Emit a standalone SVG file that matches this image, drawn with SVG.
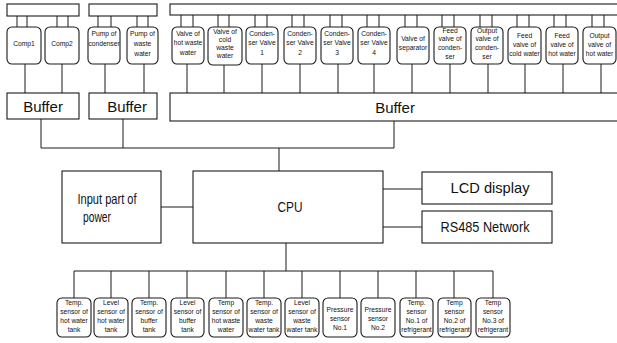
<svg xmlns="http://www.w3.org/2000/svg" width="617" height="343" viewBox="0 0 617 343">
<style>
.bx{fill:#fff;stroke:#1a1a1a;stroke-width:1.1}
.rb{fill:#fff;stroke:#1a1a1a;stroke-width:1.1}
.ln{fill:none;stroke:#1a1a1a;stroke-width:1}
.s{font-family:"Liberation Sans",Arial,sans-serif;font-size:6.7px;fill:#111;text-anchor:middle}
.m{font-family:"Liberation Sans",Arial,sans-serif;font-size:15px;fill:#111;text-anchor:middle}
</style>
<rect width="617" height="343" fill="#fff"/>
<g id="connectors">
<path class="ln" d="M17 16V27M27 16V27M57 16V27M68 16V27M98 16V27M111 16V27M137 16V27M148 16V27"/>
<path class="ln" d="M181 15V27M193 15V27M218 15V27M229 15V27M255 15V27M267 15V27M292 15V27M304 15V27M330 15V27M342 15V27M367 15V27M379 15V27M405 15V27M417 15V27M442 15V27M454 15V27M480 15V27M492 15V27M517 15V27M529 15V27M554 15V27M566 15V27M592 15V27M604 15V27"/>
<path class="ln" d="M25 64V93M62 64V93M105 64V93M144 64V93"/>
<path class="ln" d="M187 64V93M224 65V93M262 64V93M300 64V93M338 64V93M374 64V93M412 64V93M450 64V93M488 64V93M525 64V93M563 64V93M601 64V93"/>
<path class="ln" d="M41 119V148H394V121M123 119V148M279 148V171"/>
<path class="ln" d="M161 207H193M383 189H422M383 227H422"/>
<path class="ln" d="M286 243V271M74 271H493M74 271V298M111 271V298M149 271V298M187 271V298M226 271V298M264 271V298M302 271V298M340 271V298M378 271V298M416 271V298M454 271V298M493 271V298"/>
</g>
<g id="bar1"><rect class="bx" x="7" y="4" width="72" height="12"/></g>
<g id="bar2"><rect class="bx" x="89" y="4" width="68" height="12"/></g>
<g id="bar3"><rect class="bx" x="170" y="4" width="452" height="11"/></g>
<g id="comp1"><rect class="rb" x="7" y="27" width="34" height="37" rx="5"/><text class="s" x="24" y="46">Comp1</text></g>
<g id="comp2"><rect class="rb" x="45" y="27" width="34" height="37" rx="5"/><text class="s" x="62" y="46">Comp2</text></g>
<g id="pump-condenser"><rect class="rb" x="88" y="27" width="32" height="37" rx="5"/><text class="s" x="104" y="36">Pump of</text><text class="s" x="104" y="46">condenser</text></g>
<g id="pump-waste"><rect class="rb" x="127" y="27" width="31" height="37" rx="5"/><text class="s" x="142.5" y="36">Pump of</text><text class="s" x="142.5" y="46">waste</text><text class="s" x="142.5" y="56">water</text></g>
<g id="v1"><rect class="rb" x="172" y="27" width="32" height="37" rx="5"/><text class="s" x="188" y="36">Valve of</text><text class="s" x="188" y="45">hot waste</text><text class="s" x="188" y="55">water</text></g>
<g id="v2"><rect class="rb" x="208" y="27" width="34" height="38" rx="5"/><text class="s" x="225" y="34">Valve of</text><text class="s" x="225" y="42">cold</text><text class="s" x="225" y="50">waste</text><text class="s" x="225" y="58">water</text></g>
<g id="v3"><rect class="rb" x="246" y="27" width="32" height="37" rx="5"/><text class="s" x="262" y="36">Conden-</text><text class="s" x="262" y="45">ser Valve</text><text class="s" x="262" y="55">1</text></g>
<g id="v4"><rect class="rb" x="284" y="27" width="32" height="37" rx="5"/><text class="s" x="300" y="36">Conden-</text><text class="s" x="300" y="45">ser Valve</text><text class="s" x="300" y="55">2</text></g>
<g id="v5"><rect class="rb" x="321" y="27" width="32" height="37" rx="5"/><text class="s" x="337" y="36">Conden-</text><text class="s" x="337" y="45">ser Valve</text><text class="s" x="337" y="55">3</text></g>
<g id="v6"><rect class="rb" x="358" y="27" width="32" height="37" rx="5"/><text class="s" x="374" y="36">Conden-</text><text class="s" x="374" y="45">ser Valve</text><text class="s" x="374" y="55">4</text></g>
<g id="v7"><rect class="rb" x="397" y="27" width="32" height="37" rx="5"/><text class="s" x="413" y="41">Valve of</text><text class="s" x="413" y="50">separator</text></g>
<g id="v8"><rect class="rb" x="434" y="27" width="32" height="37" rx="5"/><text class="s" x="450" y="33">Feed</text><text class="s" x="450" y="41">valve of</text><text class="s" x="450" y="50">conden-</text><text class="s" x="450" y="59">ser</text></g>
<g id="v9"><rect class="rb" x="471" y="27" width="32" height="37" rx="5"/><text class="s" x="487" y="33">Output</text><text class="s" x="487" y="41">valve of</text><text class="s" x="487" y="50">conden-</text><text class="s" x="487" y="59">ser</text></g>
<g id="v10"><rect class="rb" x="508" y="27" width="33" height="37" rx="5"/><text class="s" x="524.5" y="38">Feed</text><text class="s" x="524.5" y="47">valve of</text><text class="s" x="524.5" y="56">cold water</text></g>
<g id="v11"><rect class="rb" x="546" y="27" width="32" height="37" rx="5"/><text class="s" x="562" y="38">Feed</text><text class="s" x="562" y="47">valve of</text><text class="s" x="562" y="56">hot water</text></g>
<g id="v12"><rect class="rb" x="583" y="27" width="33" height="37" rx="5"/><text class="s" x="599.5" y="38">Output</text><text class="s" x="599.5" y="47">valve of</text><text class="s" x="599.5" y="56">hot water</text></g>
<g id="buffer1"><rect class="bx" x="7" y="93" width="72" height="26"/><text class="m" x="43" y="112">Buffer</text></g>
<g id="buffer2"><rect class="bx" x="89" y="93" width="68" height="26"/><text class="m" x="127" y="112">Buffer</text></g>
<g id="buffer3"><rect class="bx" x="170" y="93" width="452" height="28"/><text class="m" x="395" y="113">Buffer</text></g>
<g id="power"><rect class="bx" x="62" y="171" width="99" height="72"/><text class="m" x="107" y="204" font-size="14" textLength="59" lengthAdjust="spacingAndGlyphs">Input part of</text><text class="m" x="97" y="222" font-size="14" textLength="28" lengthAdjust="spacingAndGlyphs">power</text></g>
<g id="cpu"><rect class="bx" x="193" y="171" width="190" height="72"/><text class="m" x="290" y="212" textLength="25" lengthAdjust="spacingAndGlyphs">CPU</text></g>
<g id="lcd"><rect class="bx" x="422" y="172" width="130" height="32"/><text class="m" x="490" y="193" font-size="14" textLength="79" lengthAdjust="spacingAndGlyphs">LCD display</text></g>
<g id="rs485"><rect class="bx" x="422" y="211" width="130" height="32"/><text class="m" x="485" y="232" font-size="14" textLength="89" lengthAdjust="spacingAndGlyphs">RS485 Network</text></g>
<g id="s1"><rect class="rb" x="57" y="298" width="34" height="39" rx="5"/><text class="s" x="74" y="305">Temp.</text><text class="s" x="74" y="314">sensor of</text><text class="s" x="74" y="323">hot water</text><text class="s" x="74" y="332">tank</text></g>
<g id="s2"><rect class="rb" x="94" y="298" width="34" height="39" rx="5"/><text class="s" x="111" y="305">Level</text><text class="s" x="111" y="314">sensor of</text><text class="s" x="111" y="323">hot water</text><text class="s" x="111" y="332">tank</text></g>
<g id="s3"><rect class="rb" x="132" y="298" width="34" height="39" rx="5"/><text class="s" x="149" y="305">Temp.</text><text class="s" x="149" y="314">sensor of</text><text class="s" x="149" y="323">buffer</text><text class="s" x="149" y="332">tank</text></g>
<g id="s4"><rect class="rb" x="171" y="298" width="33" height="39" rx="5"/><text class="s" x="187.5" y="305">Level</text><text class="s" x="187.5" y="314">sensor of</text><text class="s" x="187.5" y="323">buffer</text><text class="s" x="187.5" y="332">tank</text></g>
<g id="s5"><rect class="rb" x="209" y="298" width="34" height="39" rx="5"/><text class="s" x="226" y="305">Temp</text><text class="s" x="226" y="314">sensor of</text><text class="s" x="226" y="323">hot waste</text><text class="s" x="226" y="332">water</text></g>
<g id="s6"><rect class="rb" x="247" y="298" width="34" height="39" rx="5"/><text class="s" x="264" y="305">Temp.</text><text class="s" x="264" y="314">sensor of</text><text class="s" x="264" y="323">waste</text><text class="s" x="264" y="332">water tank</text></g>
<g id="s7"><rect class="rb" x="285" y="298" width="34" height="39" rx="5"/><text class="s" x="302" y="305">Level</text><text class="s" x="302" y="314">sensor of</text><text class="s" x="302" y="323">waste</text><text class="s" x="302" y="332">water tank</text></g>
<g id="s8"><rect class="rb" x="323" y="298" width="34" height="39" rx="5"/><text class="s" x="340" y="312">Pressure</text><text class="s" x="340" y="321">sensor</text><text class="s" x="340" y="330">No.1</text></g>
<g id="s9"><rect class="rb" x="361" y="298" width="34" height="39" rx="5"/><text class="s" x="378" y="312">Pressure</text><text class="s" x="378" y="321">sensor</text><text class="s" x="378" y="330">No.2</text></g>
<g id="s10"><rect class="rb" x="400" y="298" width="33" height="39" rx="5"/><text class="s" x="416.5" y="305">Temp.</text><text class="s" x="416.5" y="314">sensor</text><text class="s" x="416.5" y="323">No.1 of</text><text class="s" x="416.5" y="332">refrigerant</text></g>
<g id="s11"><rect class="rb" x="438" y="298" width="33" height="39" rx="5"/><text class="s" x="454.5" y="305">Temp</text><text class="s" x="454.5" y="314">sensor</text><text class="s" x="454.5" y="323">No.2 of</text><text class="s" x="454.5" y="332">refrigerant</text></g>
<g id="s12"><rect class="rb" x="476" y="298" width="34" height="39" rx="5"/><text class="s" x="493" y="305">Temp</text><text class="s" x="493" y="314">sensor</text><text class="s" x="493" y="323">No.3 of</text><text class="s" x="493" y="332">refrigerant</text></g>
</svg>
